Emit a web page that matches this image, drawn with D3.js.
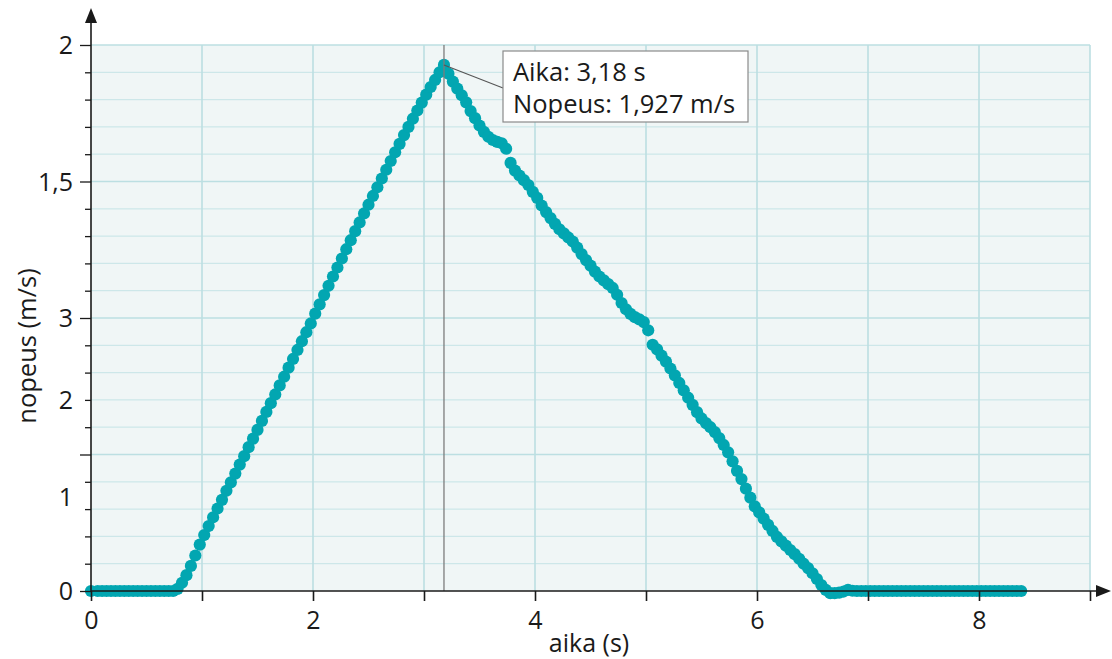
<!DOCTYPE html>
<html>
<head>
<meta charset="utf-8">
<script src="https://cdn.jsdelivr.net/npm/d3@7"></script>
<style>
  html, body { margin: 0; padding: 0; background: #ffffff; }
  svg { display: block; font-family: "Open Sans", "Noto Sans", sans-serif; }
</style>
</head>
<body>
<svg id="chart" width="1112" height="659"></svg>
<script>
// ---- data ----
const time = [
  0, 0.06, 0.10, 0.14, 0.18, 0.22, 0.26, 0.30, 0.34, 0.38, 0.42, 0.46, 0.50, 0.54, 0.58, 0.62, 0.66, 0.70, 0.74,
  0.78, 0.82, 0.86, 0.90, 0.94, 0.98,
  1.02, 1.06, 1.10, 1.14, 1.18, 1.22, 1.26, 1.30, 1.34, 1.38, 1.42, 1.46, 1.50, 1.54, 1.58, 1.62, 1.66, 1.70, 1.74, 1.78,
  1.82, 1.86, 1.90, 1.94, 1.98, 2.02, 2.06, 2.10, 2.14, 2.18, 2.22, 2.26, 2.30, 2.34, 2.38, 2.42, 2.46, 2.50, 2.54, 2.58,
  2.62, 2.66, 2.70, 2.74, 2.78, 2.82, 2.86, 2.90, 2.94, 2.98, 3.02, 3.06, 3.10, 3.14, 3.18,
  3.22, 3.26, 3.30, 3.34, 3.38, 3.42, 3.46, 3.50, 3.54, 3.58, 3.62, 3.66, 3.70, 3.74, 3.78, 3.82, 3.86, 3.90, 3.94, 3.98,
  4.02, 4.06, 4.10, 4.14, 4.18, 4.22, 4.26, 4.30, 4.34, 4.38, 4.42, 4.46, 4.50, 4.54, 4.58, 4.62, 4.66, 4.70, 4.74, 4.78,
  4.82, 4.86, 4.90, 4.94, 4.98, 5.02, 5.06, 5.10, 5.14, 5.18, 5.22, 5.26, 5.30, 5.34, 5.38, 5.42, 5.46, 5.50, 5.54, 5.58,
  5.62, 5.66, 5.70, 5.74, 5.78, 5.82, 5.86, 5.90, 5.94, 5.98, 6.02, 6.06, 6.10, 6.14, 6.18, 6.22, 6.26, 6.30, 6.34, 6.38,
  6.42, 6.46, 6.50, 6.54, 6.58, 6.62, 6.66, 6.70, 6.74, 6.78, 6.82, 6.86,
  6.90, 6.94, 6.98, 7.02, 7.06, 7.10, 7.14, 7.18, 7.22, 7.26, 7.30, 7.34, 7.38, 7.42, 7.46, 7.50, 7.54, 7.58, 7.62, 7.66,
  7.70, 7.74, 7.78, 7.82, 7.86, 7.90, 7.94, 7.98, 8.02, 8.06, 8.10, 8.14, 8.18, 8.22, 8.26, 8.30, 8.34, 8.38
];
const speed = [
  0, 0, 0, 0, 0, 0, 0, 0, 0, 0, 0, 0, 0, 0, 0, 0, 0, 0, 0,
  0.008, 0.03, 0.058, 0.092, 0.13, 0.17,
  0.205, 0.238, 0.27, 0.302, 0.334, 0.367, 0.398, 0.43, 0.463, 0.494, 0.527, 0.558, 0.59, 0.623, 0.656, 0.688, 0.72, 0.753, 0.785, 0.818,
  0.85, 0.883, 0.915, 0.948, 0.98, 1.016, 1.05, 1.084, 1.118, 1.152, 1.185, 1.218, 1.252, 1.285, 1.318, 1.35, 1.383, 1.415, 1.447, 1.479,
  1.511, 1.543, 1.575, 1.607, 1.638, 1.67, 1.7, 1.73, 1.76, 1.789, 1.818, 1.846, 1.872, 1.9, 1.927,
  1.895, 1.866, 1.84, 1.816, 1.79, 1.758, 1.732, 1.705, 1.682, 1.664, 1.652, 1.645, 1.64, 1.62, 1.568, 1.54, 1.522, 1.505, 1.487, 1.462,
  1.44, 1.412, 1.388, 1.366, 1.345, 1.325, 1.31, 1.295, 1.28, 1.258, 1.234, 1.212, 1.192, 1.17, 1.152, 1.138, 1.124, 1.11, 1.085, 1.055,
  1.032, 1.015, 1.003, 0.995, 0.985, 0.955, 0.902, 0.885, 0.862, 0.84, 0.815, 0.79, 0.762, 0.735, 0.708, 0.682, 0.655, 0.632, 0.615, 0.6,
  0.582, 0.56, 0.535, 0.508, 0.475, 0.44, 0.41, 0.375, 0.342, 0.31, 0.288, 0.265, 0.242, 0.22, 0.198, 0.182, 0.166, 0.15, 0.135, 0.118,
  0.1, 0.084, 0.065, 0.044, 0.022, 0.004, -0.008, -0.008, -0.006, -0.002, 0.004, 0.001,
  0, 0, 0, 0, 0, 0, 0, 0, 0, 0, 0, 0, 0, 0, 0, 0, 0, 0, 0, 0,
  0, 0, 0, 0, 0, 0, 0, 0, 0, 0, 0, 0, 0, 0, 0, 0, 0, 0
];
const xTickValues = [0, 1, 2, 3, 4, 5, 6, 7, 8, 9];
const xTickLabels = ["0", "", "2", "", "4", "", "6", "", "8", ""];
const yTickLabels = ["2", "1,5", "3", "2", "1", "0"];
const yTickLabelAt = [2, 1.5, 1.0, 0.7, 0.345, 0];
const cursorTime = 3.18;
const cursorSpeed = 1.927;
const tooltipLines = ["Aika: 3,18 s", "Nopeus: 1,927 m/s"];
const xTitle = "aika (s)";
const yTitle = "nopeus (m/s)";

// ---- scales ----
const svg = d3.select("#chart");
const x = d3.scaleLinear().domain([0, 9]).range([91, 1090]);
const y = d3.scaleLinear().domain([0, 2]).range([591, 45]);

const pts = time.map((t, i) => ({ t, v: speed[i] }));

// background
svg.append("rect")
  .attr("x", x(0)).attr("y", y(2))
  .attr("width", x(9) - x(0)).attr("height", y(0) - y(2))
  .attr("fill", "#f0f6f6");

// horizontal grid (every 0.1)
const hVals = d3.range(1, 21).map(i => i / 10);
svg.append("g").selectAll("line").data(hVals).join("line")
  .attr("x1", x(0)).attr("x2", x(9))
  .attr("y1", d => y(d)).attr("y2", d => y(d))
  .attr("stroke", (d, i) => ((i + 1) % 5 === 0) ? "#bcdfe2" : "#cde7e9")
  .attr("stroke-width", (d, i) => ((i + 1) % 5 === 0) ? 1.5 : 1.2);

// vertical grid (every 1 s)
svg.append("g").selectAll("line").data(d3.range(1, 10)).join("line")
  .attr("x1", d => x(d)).attr("x2", d => x(d))
  .attr("y1", y(2)).attr("y2", y(0))
  .attr("stroke", "#bcdfe2").attr("stroke-width", 1.6);

// data points
svg.append("g").selectAll("circle").data(pts).join("circle")
  .attr("cx", d => x(d.t)).attr("cy", d => y(d.v))
  .attr("r", 6.1)
  .attr("fill", "#02a6b1");

// cursor line
svg.append("line")
  .attr("x1", x(cursorTime)).attr("x2", x(cursorTime))
  .attr("y1", y(2)).attr("y2", y(0))
  .attr("stroke", "#7d7d7d").attr("stroke-width", 1.3);

// axes
const yAxisMinor = d3.axisLeft(y).tickValues(hVals.filter((d, i) => (i + 1) % 5 !== 0)).tickSize(6).tickFormat("");
const yAxisMajor = d3.axisLeft(y).tickValues([0, 0.5, 1, 1.5, 2]).tickSize(11).tickFormat("");
[yAxisMinor, yAxisMajor].forEach(ax => {
  const g = svg.append("g").attr("transform", `translate(${x(0)},0)`).call(ax);
  g.select(".domain").remove();
  g.selectAll(".tick line").attr("stroke", "#1a1a1a").attr("stroke-width", 1.3);
});
const xAxis = d3.axisBottom(x).tickValues(xTickValues).tickSize(10)
  .tickFormat((d, i) => xTickLabels[i]);
const gx = svg.append("g").attr("transform", `translate(0,${y(0)})`).call(xAxis);
gx.select(".domain").remove();
gx.selectAll(".tick line").attr("stroke", "#1a1a1a").attr("stroke-width", 1.6);
gx.selectAll(".tick text")
  .attr("y", 20).attr("dy", "0.71em")
  .attr("font-size", 25).attr("fill", "#1a1a1a")
  .attr("font-family", "'Open Sans', sans-serif");

// axis lines with arrows
svg.append("line").attr("x1", x(0)).attr("x2", x(0)).attr("y1", y(0) + 1).attr("y2", 18)
  .attr("stroke", "#1a1a1a").attr("stroke-width", 1.6);
svg.append("path").attr("d", `M${x(0)},8 L${x(0) - 6},23 L${x(0) + 6},23 Z`).attr("fill", "#1a1a1a");
svg.append("line").attr("x1", x(0)).attr("x2", 1102).attr("y1", y(0)).attr("y2", y(0))
  .attr("stroke", "#1a1a1a").attr("stroke-width", 1.6);
svg.append("path").attr("d", `M1111,${y(0)} L1096,${y(0) - 6} L1096,${y(0) + 6} Z`).attr("fill", "#1a1a1a");

// y tick labels
svg.append("g").selectAll("text").data(yTickLabels).join("text")
  .attr("x", 73).attr("y", (d, i) => y(yTickLabelAt[i]))
  .attr("dy", "0.36em")
  .attr("text-anchor", "end")
  .attr("font-size", 25).attr("fill", "#1a1a1a")
  .text(d => d);

// axis titles
svg.append("text")
  .attr("x", 589).attr("y", 652)
  .attr("text-anchor", "middle")
  .attr("font-size", 25).attr("fill", "#1a1a1a")
  .text(xTitle);
svg.append("text")
  .attr("transform", `translate(36,346) rotate(-90)`)
  .attr("text-anchor", "middle")
  .attr("font-size", 25.5).attr("fill", "#1a1a1a")
  .text(yTitle);

// tooltip
const bx = 503, by = 51, bw = 245, bh = 71;
svg.append("line")
  .attr("x1", x(cursorTime)).attr("y1", y(cursorSpeed))
  .attr("x2", bx).attr("y2", by + 37)
  .attr("stroke", "#555").attr("stroke-width", 1.1);
svg.append("rect").attr("x", bx).attr("y", by).attr("width", bw).attr("height", bh)
  .attr("fill", "#ffffff").attr("stroke", "#8a8a8a").attr("stroke-width", 1.2);
svg.append("g").selectAll("text").data(tooltipLines).join("text")
  .attr("x", bx + 10).attr("y", (d, i) => by + 30 + i * 32)
  .attr("font-size", 25.5).attr("fill", "#1a1a1a")
  .text(d => d);
</script>
</body>
</html>
